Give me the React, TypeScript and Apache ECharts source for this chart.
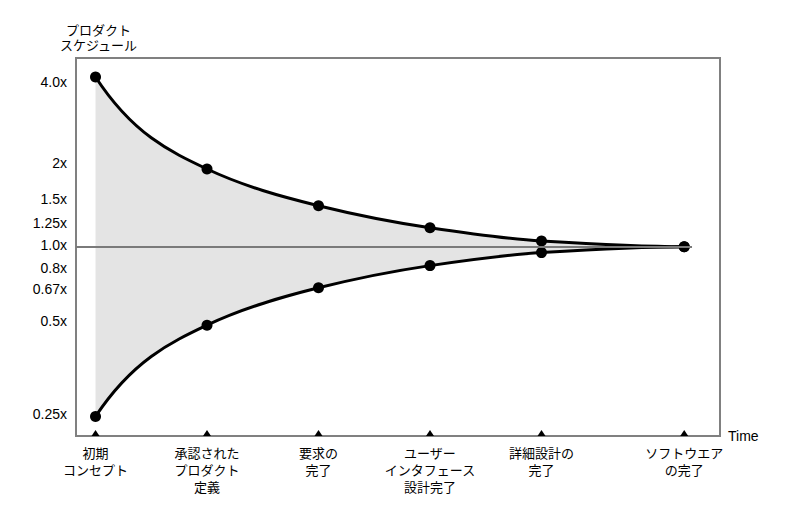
import React, { useEffect, useRef } from "react";
import * as echarts from "echarts";

// ---- data ----
const milestones = [
  "初期\nコンセプト",
  "承認された\nプロダクト\n定義",
  "要求の\n完了",
  "ユーザー\nインタフェース\n設計完了",
  "詳細設計の\n完了",
  "ソフトウエア\nの完了",
];
const milestoneTimes = [0, 1, 2, 3, 4, 5.28];
const upperEstimate = [4.0, 1.887, 1.398, 1.168, 1.048, 1.0];
const lowerEstimate = [0.25, 0.527, 0.715, 0.857, 0.953, 1.0];
const tickLabels = ["4.0x", "2x", "1.5x", "1.25x", "1.0x", "0.8x", "0.67x", "0.5x", "0.25x"];
const tickPositions = [3.85, 1.985, 1.476, 1.217, 1.016, 0.838, 0.708, 0.547, 0.256];
const yAxisTitle = "プロダクト\nスケジュール";
const xAxisTitle = "Time";

const Y_MIN = 0.2131;
const Y_MAX = 4.672;
const X_MIN = -0.175;
const X_MAX = 5.601;
const FONT = "'Liberation Sans', 'Noto Sans CJK JP', sans-serif";

function nearestIndex(arr: number[], v: number, log: boolean) {
  let best = 0;
  let bd = Infinity;
  arr.forEach((a, i) => {
    const d = log ? Math.abs(Math.log(a) - Math.log(v)) : Math.abs(a - v);
    if (d < bd) {
      bd = d;
      best = i;
    }
  });
  return best;
}

type Seg = { p0: number[]; c1: number[]; c2: number[]; p1: number[] };

// monotone (Fritsch–Butland) cubic segments in pixel space
function monotoneSegments(pts: number[][]): Seg[] {
  const n = pts.length;
  const h: number[] = [];
  const s: number[] = [];
  for (let i = 0; i < n - 1; i++) {
    h[i] = pts[i + 1][0] - pts[i][0];
    s[i] = (pts[i + 1][1] - pts[i][1]) / h[i];
  }
  const t: number[] = new Array(n).fill(0);
  for (let i = 1; i < n - 1; i++) {
    const a = s[i - 1];
    const b = s[i];
    t[i] = a * b > 0 ? (2 * a * b) / (a + b) : 0;
  }
  const endT = (sv: number, tin: number) => {
    const v = 3 * sv - 2 * tin;
    return v * sv > 0 ? v : 0;
  };
  t[0] = endT(s[0], t[1]);
  t[n - 1] = endT(s[n - 2], t[n - 2]);
  const segs: Seg[] = [];
  for (let i = 0; i < n - 1; i++) {
    const d = h[i] / 3;
    segs.push({
      p0: pts[i],
      c1: [pts[i][0] + d, pts[i][1] + t[i] * d],
      c2: [pts[i + 1][0] - d, pts[i + 1][1] - t[i + 1] * d],
      p1: pts[i + 1],
    });
  }
  return segs;
}

function f(p: number[]) {
  return p[0].toFixed(2) + " " + p[1].toFixed(2);
}

function forwardPath(segs: Seg[]) {
  let d = "M" + f(segs[0].p0);
  segs.forEach((sg) => {
    d += " C" + f(sg.c1) + " " + f(sg.c2) + " " + f(sg.p1);
  });
  return d;
}

function backwardPath(segs: Seg[]) {
  const last = segs[segs.length - 1];
  let d = " L" + f(last.p1);
  for (let i = segs.length - 1; i >= 0; i--) {
    const sg = segs[i];
    d += " C" + f(sg.c2) + " " + f(sg.c1) + " " + f(sg.p0);
  }
  return d;
}

export default function App() {
  const ref = useRef<HTMLDivElement>(null);
  useEffect(() => {
    if (!ref.current) return;
    const chart = echarts.init(ref.current, undefined, { renderer: "svg" });
    const upper = milestoneTimes.map((t, i) => [t, upperEstimate[i]]);
    const lower = milestoneTimes.map((t, i) => [t, lowerEstimate[i]]);

    const fillRender = (params: any, api: any) => {
      const up = monotoneSegments(upper.map((p) => api.coord(p)));
      const lo = monotoneSegments(lower.map((p) => api.coord(p)));
      const d = forwardPath(up) + backwardPath(lo) + " Z";
      return {
        type: "path",
        shape: { pathData: d },
        style: { fill: "#e4e4e4", stroke: "none" },
        silent: true,
      };
    };
    const curveRender = (params: any, api: any) => {
      const up = monotoneSegments(upper.map((p) => api.coord(p)));
      const lo = monotoneSegments(lower.map((p) => api.coord(p)));
      return {
        type: "group",
        children: [
          {
            type: "path",
            shape: { pathData: forwardPath(up) },
            style: { fill: "none", stroke: "#000", lineWidth: 3 },
          },
          {
            type: "path",
            shape: { pathData: forwardPath(lo) },
            style: { fill: "none", stroke: "#000", lineWidth: 3 },
          },
        ],
      };
    };

    const option: any = {
      animation: false,
      backgroundColor: "#fff",
      textStyle: { fontFamily: FONT },
      grid: {
        show: true,
        left: 76,
        right: 80,
        top: 58,
        bottom: 84,
        borderColor: "#808080",
        borderWidth: 2,
        backgroundColor: "transparent",
      },
      graphic: [
        {
          type: "text",
          x: 98.5,
          y: 22.5,
          style: {
            text: yAxisTitle,
            align: "center",
            verticalAlign: "top",
            fontSize: 13,
            lineHeight: 15,
            fontFamily: FONT,
            fill: "#000",
          },
        },
      ],
      xAxis: {
        type: "value",
        min: X_MIN,
        max: X_MAX,
        name: xAxisTitle,
        nameLocation: "end",
        nameGap: 8,
        nameTextStyle: { fontSize: 14, color: "#000", fontFamily: FONT, verticalAlign: "middle" },
        axisLine: { show: false },
        axisTick: { show: false },
        splitLine: { show: false },
        axisLabel: {
          customValues: milestoneTimes,
          formatter: (v: number) => milestones[nearestIndex(milestoneTimes, v, false)],
          fontSize: 13,
          lineHeight: 17,
          color: "#000",
          margin: 9,
          fontFamily: FONT,
        },
      },
      yAxis: {
        type: "log",
        logBase: 2,
        min: Y_MIN,
        max: Y_MAX,
        axisLine: { show: false },
        axisTick: { show: false },
        splitLine: { show: false },
        axisLabel: {
          customValues: tickPositions,
          formatter: (v: number) => tickLabels[nearestIndex(tickPositions, v, true)],
          fontSize: 14,
          color: "#000",
          margin: 9,
          fontFamily: FONT,
        },
      },
      series: [
        {
          type: "custom",
          name: "coneFill",
          coordinateSystem: "cartesian2d",
          data: [[milestoneTimes[0], 1]],
          renderItem: fillRender,
          z: 1,
          silent: true,
        },
        {
          type: "line",
          name: "baseline",
          data: [],
          z: 2,
          markLine: {
            silent: true,
            symbol: "none",
            label: { show: false },
            lineStyle: { color: "#7a7a7a", width: 2, type: "solid" },
            data: [[{ coord: [X_MIN, 1] }, { coord: [5.35, 1] }]],
          },
        },
        {
          type: "custom",
          name: "coneCurves",
          coordinateSystem: "cartesian2d",
          data: [[milestoneTimes[0], 1]],
          renderItem: curveRender,
          z: 3,
          silent: true,
        },
        {
          type: "scatter",
          name: "upper",
          data: upper,
          symbol: "circle",
          symbolSize: 11,
          itemStyle: { color: "#000", opacity: 1 },
          z: 4,
        },
        {
          type: "scatter",
          name: "lower",
          data: lower,
          symbol: "circle",
          symbolSize: 11,
          itemStyle: { color: "#000", opacity: 1 },
          z: 4,
        },
        {
          type: "scatter",
          name: "milestoneMarks",
          data: milestoneTimes.map((t) => [t, Y_MIN]),
          symbol: "triangle",
          symbolSize: [8, 6],
          symbolOffset: [0, -3],
          itemStyle: { color: "#000", opacity: 1 },
          clip: false,
          z: 4,
        },
      ],
    };
    chart.setOption(option);
    return () => chart.dispose();
  }, []);
  return (
    <div
      ref={ref}
      style={{ position: "fixed", left: 0, top: 0, width: 800, height: 520 }}
    />
  );
}
